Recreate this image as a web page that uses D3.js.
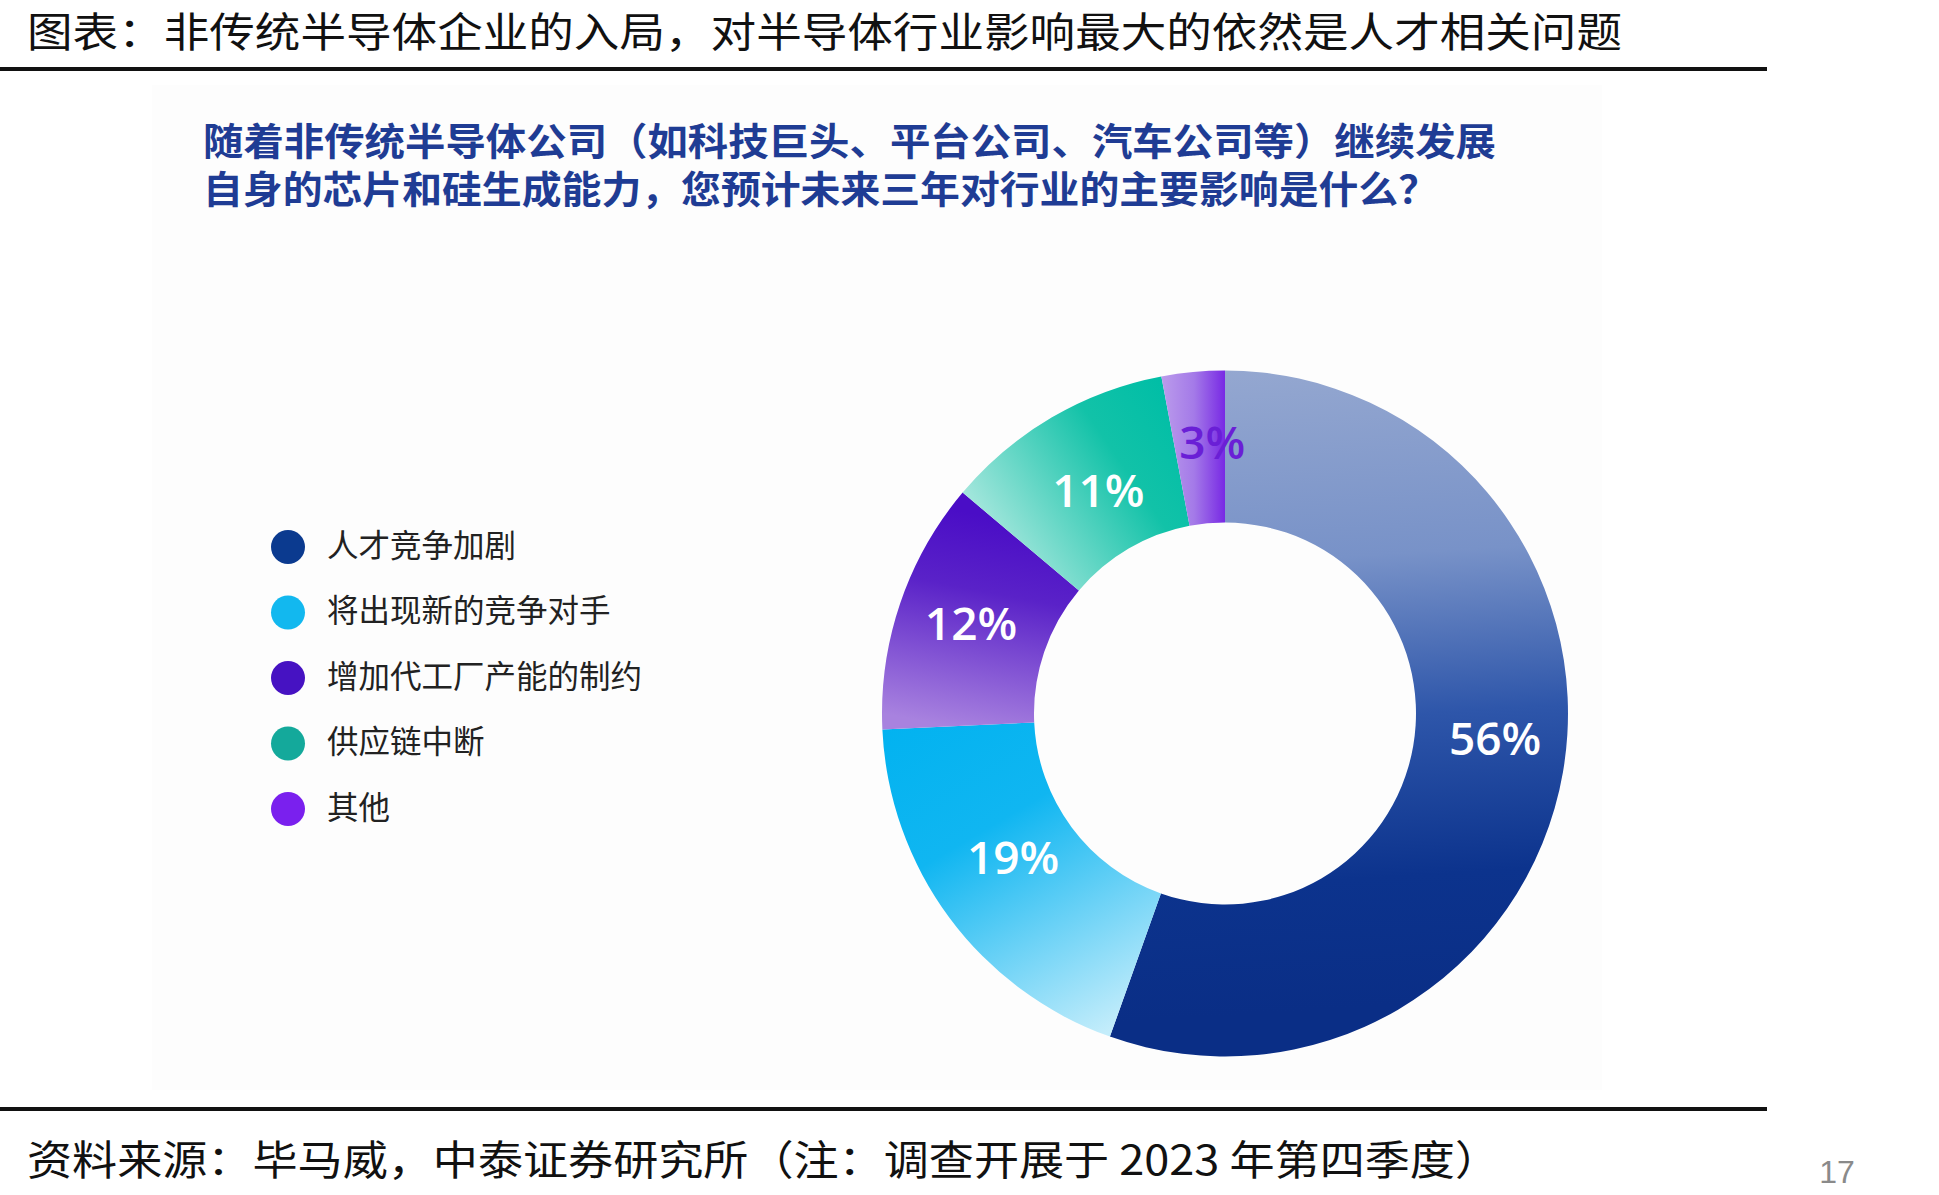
<!DOCTYPE html>
<html><head><meta charset="utf-8">
<script src="https://cdn.jsdelivr.net/npm/d3@7"></script>
<style>
html,body{margin:0;padding:0;background:#fff;}
svg{display:block;}
</style></head>
<body>
<script>
// ---- data ----
const pageTitle = "图表：非传统半导体企业的入局，对半导体行业影响最大的依然是人才相关问题";
const subtitleLines = ["随着非传统半导体公司（如科技巨头、平台公司、汽车公司等）继续发展",
                       "自身的芯片和硅生成能力，您预计未来三年对行业的主要影响是什么？"];
const categories = ["人才竞争加剧","将出现新的竞争对手","增加代工厂产能的制约","供应链中断","其他"];
const values = [56, 19, 12, 11, 3];
const valueLabels = ["56%","19%","12%","11%","3%"];
const legendColors = ["#0b3a8f","#12b8ef","#4612c2","#14a99b","#7a20ee"];
const sourceText = "资料来源：毕马威，中泰证券研究所（注：调查开展于 2023 年第四季度）";
const pageNumber = "17";

// ---- layout ----
const W = 1939, H = 1195;
const svg = d3.select("body").append("svg").attr("width", W).attr("height", H);
const defs = svg.append("defs");

// faint panel
svg.append("rect").attr("x",152).attr("y",85).attr("width",1450).attr("height",1005).attr("fill","#fdfdfd");

// header title
const cjk = "'Noto Sans CJK SC','Noto Sans',sans-serif";
svg.append("text").text(pageTitle)
  .attr("x",27).attr("y",47)
  .attr("textLength",1595).attr("lengthAdjust","spacingAndGlyphs")
  .attr("font-family",cjk).attr("font-size",41).attr("font-weight",400).attr("fill","#111");
svg.append("rect").attr("x",0).attr("y",67).attr("width",1767).attr("height",4).attr("fill","#111");

// subtitle
const subLens = [1293, 1235];
subtitleLines.forEach((t,i)=>{
  svg.append("text").text(t)
    .attr("x",203).attr("y",[155,203][i])
    .attr("textLength",subLens[i]).attr("lengthAdjust","spacingAndGlyphs")
    .attr("font-family",cjk).attr("font-size",38).attr("font-weight",700).attr("fill","#1f3c94");
});

// ---- donut ----
const cx = 1225, cy = 713.5, rOuter = 343, rInner = 191;
const g = svg.append("g").attr("transform",`translate(${cx},${cy})`);
const pie = d3.pie().sort(null).value(d=>d).startAngle(0).endAngle(2*Math.PI);
const arcs = pie(values);
const arc = d3.arc().innerRadius(rInner).outerRadius(rOuter);
const labelArc = d3.arc().innerRadius(265).outerRadius(265);

// gradient specs (relative to centre, in px)
const grads = [
  {x1:0,y1:-343,x2:40,y2:300, stops:[[0,"#94a7d0"],[0.3,"#7892c8"],[0.55,"#2e56aa"],[0.8,"#0c338d"],[1,"#0a2e86"]]},
  {x1:-320,y1:-20,x2:-120,y2:320, stops:[[0,"#00b2f0"],[0.4,"#10b6f1"],[1,"#c4edfb"]]},
  {x1:-250,y1:-200,x2:-290,y2:10, stops:[[0,"#4a0dc6"],[0.35,"#5a22c8"],[1,"#a882df"]]},
  {x1:-40,y1:-300,x2:-230,y2:-170, stops:[[0,"#00bea6"],[0.35,"#12c2a8"],[1,"#a6e7dd"]]},
  {x1:-62,y1:0,x2:0,y2:0, stops:[[0,"#ba9aeb"],[0.5,"#a47ae8"],[1,"#7829e4"]]}
];
grads.forEach((gd,i)=>{
  const lg = defs.append("linearGradient").attr("id","grad"+i)
    .attr("gradientUnits","userSpaceOnUse")
    .attr("x1",gd.x1).attr("y1",gd.y1).attr("x2",gd.x2).attr("y2",gd.y2);
  gd.stops.forEach(s=>lg.append("stop").attr("offset",s[0]).attr("stop-color",s[1]));
});

g.selectAll("path.slice").data(arcs).enter().append("path")
  .attr("class","slice")
  .attr("d",arc)
  .attr("fill",(d,i)=>`url(#grad${i})`);

g.selectAll("text.lbl").data(arcs).enter().append("text")
  .attr("class","lbl")
  .attr("transform",(d,i)=>{
    const c = labelArc.centroid(d);
    const adj = [[9,-20],[1,-14],[-3,-5],[7,6],[12,-7]][i];
    return `translate(${c[0]+adj[0]},${c[1]+adj[1]})`;
  })
  .attr("text-anchor","middle").attr("dy","0.36em")
  .attr("font-family","'Open Sans','Noto Sans',sans-serif")
  .attr("font-size",46).attr("font-weight",600)
  .attr("fill",(d,i)=> i===4 ? "#6a1fd6" : "#ffffff")
  .text((d,i)=>valueLabels[i]);

// ---- legend ----
const legY = d3.scalePoint().domain(categories).range([547,809]);
const leg = svg.append("g");
const items = leg.selectAll("g").data(categories).enter().append("g")
  .attr("transform",d=>`translate(288,${legY(d)})`);
items.append("circle").attr("r",17).attr("fill",(d,i)=>legendColors[i]);
items.append("text").attr("x",39).attr("y",-2).attr("dy","0.38em")
  .attr("font-family",cjk).attr("font-size",31.5).attr("font-weight",400)
  .attr("fill","#222").text(d=>d);

// ---- footer ----
svg.append("rect").attr("x",0).attr("y",1107).attr("width",1767).attr("height",4).attr("fill","#111");
svg.append("text").text(sourceText)
  .attr("x",27).attr("y",1175)
  .attr("textLength",1473).attr("lengthAdjust","spacingAndGlyphs")
  .attr("font-family",cjk).attr("font-size",41).attr("font-weight",400).attr("fill","#111");
svg.append("text").text(pageNumber)
  .attr("x",1837).attr("y",1183).attr("text-anchor","middle")
  .attr("font-family","'Liberation Sans',sans-serif")
  .attr("font-size",32).attr("fill","#8a8a8a");
</script>
</body></html>
